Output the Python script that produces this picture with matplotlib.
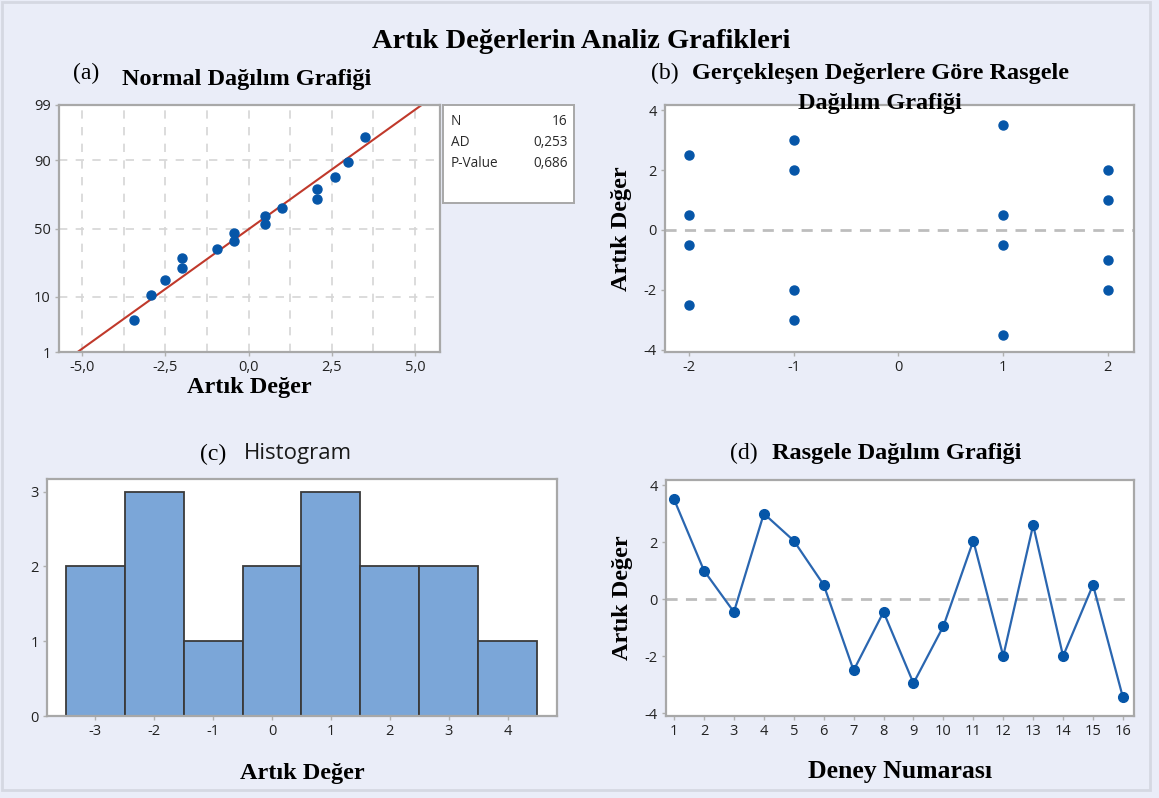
import matplotlib
matplotlib.use("Agg")
import matplotlib.pyplot as plt
import numpy as np
from statistics import NormalDist
from matplotlib.patches import Rectangle

# residuals in run order (panel d)
runs = list(range(1, 17))
residuals = [3.5, 1.0, -0.45, 3.0, 2.05, 0.5, -2.5, -0.45, -2.95, -0.95, 2.05, -2.0, 2.6, -2.0, 0.5, -3.45]

# residuals vs fitted/level (panel b)
levels = [-2, -2, -2, -2, -1, -1, -1, -1, 1, 1, 1, 1, 2, 2, 2, 2]
level_resid = [2.5, 0.5, -0.5, -2.5, 3.0, 2.0, -2.0, -3.0, 3.5, 0.5, -0.5, -3.5, 2.0, 1.0, -1.0, -2.0]

# histogram (panel c)
bin_centers = [-3, -2, -1, 0, 1, 2, 3, 4]
bin_counts = [2, 3, 1, 2, 3, 2, 2, 1]

stats_rows = [("N", "16"), ("AD", "0,253"), ("P-Value", "0,686")]

W, H = 1159, 798
BG = "#EAEDF8"
BLUE = "#0656A8"
SERIF = "Liberation Serif"
SANS = "Open Sans"
plt.rcParams["axes.unicode_minus"] = False


def box(l, t, r, b):
    return [l / W, 1 - b / H, (r - l) / W, (b - t) / H]


def style(ax):
    ax.set_facecolor("white")
    for s in ax.spines.values():
        s.set_color("#A8A8A8")
        s.set_linewidth(1.6)
    ax.tick_params(length=3, width=1, color="#B0B0B0", labelsize=10.5,
                   labelcolor="#222222", pad=3)
    for lab in ax.get_xticklabels() + ax.get_yticklabels():
        lab.set_family(SANS)


def main():
    fig = plt.figure(figsize=(W / 100, H / 100), dpi=100)
    fig.patch.set_facecolor(BG)
    fig.patches.append(Rectangle((2 / W, 8 / H), 1148 / W, 788 / H, transform=fig.transFigure,
                                 fill=False, edgecolor="#D5D8E2", linewidth=2))

    fig.text(581 / W, 1 - 42 / H, "Artık Değerlerin Analiz Grafikleri", family=SERIF,
             weight="bold", size=20.5, ha="center", va="center")

    # (a) normal probability plot
    nd = NormalDist()
    ax = fig.add_axes(box(59, 105, 440, 352))
    xs = np.sort(residuals)
    n = len(xs)
    pct = [(i - 0.3) / (n + 0.4) for i in range(1, n + 1)]
    zs = [nd.inv_cdf(p) for p in pct]
    mu, sd = np.mean(residuals), np.std(residuals, ddof=1)
    zl = np.array([nd.inv_cdf(0.005), nd.inv_cdf(0.995)])
    ax.plot(mu + sd * zl, zl, color="#C0392B", lw=1.5, zorder=2)
    ax.plot(xs, zs, "o", color=BLUE, ms=6.5, zorder=3)
    ax.set_xlim(-5.7, 5.75)
    ax.set_ylim(nd.inv_cdf(0.01), nd.inv_cdf(0.99))
    ax.set_xticks([-5, -2.5, 0, 2.5, 5])
    ax.set_xticklabels(["-5,0", "-2,5", "0,0", "2,5", "5,0"])
    ax.set_xticks(np.arange(-5, 5.1, 1.25), minor=True)
    ax.tick_params(axis="x", which="minor", length=0)
    pticks = [1, 10, 50, 90, 99]
    ax.set_yticks([nd.inv_cdf(p / 100) for p in pticks])
    ax.set_yticklabels([str(p) for p in pticks])
    for x in np.arange(-5, 5.1, 1.25):
        ax.axvline(x, color="#D6D6D6", lw=1.2, ls=(0, (5, 5)), zorder=1)
    for p in [10, 50, 90]:
        ax.axhline(nd.inv_cdf(p / 100), color="#D6D6D6", lw=1.2, ls=(0, (5, 5)), zorder=1)
    style(ax)
    ax.set_xlabel("Artık Değer", family=SERIF, weight="bold", size=17.5, labelpad=1)

    fig.text(73 / W, 1 - 73 / H, "(a)", family=SERIF, size=17, ha="left", va="center")
    fig.text(122 / W, 1 - 80 / H, "Normal Dağılım Grafiği", family=SERIF, weight="bold",
             size=17.5, ha="left", va="center")

    sb = fig.add_axes(box(443, 105, 574, 203))
    sb.set_xticks([])
    sb.set_yticks([])
    sb.set_facecolor("white")
    for s in sb.spines.values():
        s.set_color("#A8A8A8")
        s.set_linewidth(1.4)
    for i, (k, v) in enumerate(stats_rows):
        y = 0.83 - i * 0.215
        sb.text(0.06, y, k, family=SANS, size=9.8, ha="left", va="center", color="#2A2A2A")
        sb.text(0.95, y, v, family=SANS, size=9.8, ha="right", va="center", color="#2A2A2A")

    # (b) residuals vs level
    ax = fig.add_axes(box(665, 105, 1134, 352))
    ax.axhline(0, color="#BDBDBD", lw=2, ls=(0, (4, 3)), zorder=1)
    ax.plot(levels, level_resid, "o", color=BLUE, ms=6.5, zorder=3)
    ax.set_xlim(-2.23, 2.25)
    ax.set_ylim(-4.07, 4.17)
    ax.set_xticks([-2, -1, 0, 1, 2])
    ax.set_yticks([-4, -2, 0, 2, 4])
    style(ax)
    ax.set_ylabel("Artık Değer", family=SERIF, weight="bold", size=17.5, labelpad=8)
    fig.text(651 / W, 1 - 73 / H, "(b)", family=SERIF, size=17, ha="left", va="center")
    fig.text(692 / W, 1 - 73 / H, "Gerçekleşen Değerlere Göre Rasgele", family=SERIF,
             weight="bold", size=17.5, ha="left", va="center")
    fig.text(880 / W, 1 - 103 / H, "Dağılım Grafiği", family=SERIF, weight="bold",
             size=17.5, ha="center", va="center")

    # (c) histogram
    ax = fig.add_axes(box(47, 479, 557, 716))
    ax.bar(bin_centers, bin_counts, width=1, color="#7BA6D8", edgecolor="#3A3A3A", lw=1.3)
    ax.set_xlim(-3.82, 4.84)
    ax.set_ylim(0, 3.17)
    ax.set_xticks(bin_centers)
    ax.set_yticks([0, 1, 2, 3])
    style(ax)
    ax.set_xlabel("Artık Değer", family=SERIF, weight="bold", size=17.5, labelpad=17)
    fig.text(200 / W, 1 - 454 / H, "(c)", family=SERIF, size=17, ha="left", va="center")
    fig.text(244 / W, 1 - 454 / H, "Histogram", family=SANS, size=16, ha="left",
             va="center", color="#1A1A1A")

    # (d) residuals vs run order
    ax = fig.add_axes(box(666, 480, 1134, 716))
    ax.axhline(0, color="#BDBDBD", lw=2, ls=(0, (4, 3)), zorder=1)
    ax.plot(runs, residuals, "-o", color="#2A66B0", mfc=BLUE, mec=BLUE, ms=7, lw=1.6, zorder=3)
    ax.set_xlim(0.73, 16.37)
    ax.set_ylim(-4.1, 4.18)
    ax.set_xticks(runs)
    ax.set_yticks([-4, -2, 0, 2, 4])
    style(ax)
    ax.set_ylabel("Artık Değer", family=SERIF, weight="bold", size=17.5, labelpad=8)
    ax.set_xlabel("Deney Numarası", family=SERIF, weight="bold", size=18.5, labelpad=15)
    fig.text(730 / W, 1 - 453 / H, "(d)", family=SERIF, size=17, ha="left", va="center")
    fig.text(772 / W, 1 - 453 / H, "Rasgele Dağılım Grafiği", family=SERIF, weight="bold",
             size=17.5, ha="left", va="center")

    fig.savefig("out.png", dpi=100, facecolor=fig.get_facecolor())


if __name__ == "__main__":
    main()
